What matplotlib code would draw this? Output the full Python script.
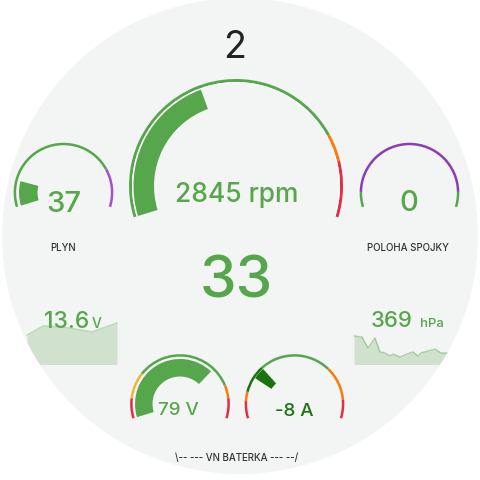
import matplotlib
matplotlib.use('Agg')
import matplotlib.pyplot as plt
from matplotlib.patches import Circle, Wedge

plt.rcParams['font.family'] = ['Inter', 'DejaVu Sans']
plt.rcParams['font.weight'] = 500

GREEN = '#56a64b'
DARKGREEN = '#19730e'
ORANGE = '#ff780a'
RED = '#e02f44'
YELLOW = '#eab839'
PURPLE = '#a352cc'
PURPLE2 = '#8f3bb8'
BG = '#f3f4f4'

# --- data ---------------------------------------------------------------
gear = '2'
speed = '33'

rpm_value = 2845
rpm_min, rpm_max = 0, 7000
rpm_steps = [(0, GREEN), (5500, ORANGE), (6000, RED)]

plyn_value = 37
plyn_min, plyn_max = 30, 77
plyn_steps = [(30, GREEN), (67, PURPLE)]

spojka_value = 0
spojka_min, spojka_max = 0, 12
spojka_steps = [(0, GREEN), (1, PURPLE2), (11, GREEN)]

hv_volt_value = 79
hv_volt_min, hv_volt_max = 60, 87
hv_volt_steps = [(60, RED), (63, YELLOW), (67, GREEN), (82, ORANGE), (84, RED)]

hv_amp_value = -8
hv_amp_min, hv_amp_max = -35, 80
hv_amp_steps = [(-35, RED), (-24, ORANGE), (-18, DARKGREEN), (0, GREEN),
                (46, ORANGE), (68, RED)]

lv_time = [0, 16, 36, 65, 90]
lv_volt = [13.39, 13.58, 13.56, 13.46, 13.64]

baro_time = [0, 8, 14, 21, 26, 31, 36, 39, 46, 53, 59, 64, 67, 74, 81, 87,
             93, 96, 110]
baro_hpa = [385, 384, 373, 383, 369, 368, 365, 367, 364, 367, 369, 365, 368,
            370, 372, 368, 368, 369, 369]

START, SPAN = 197.0, 214.0


def ang(v, vmin, vmax):
    f = (v - vmin) / (vmax - vmin)
    return START - SPAN * f


def gauge(cx, cy, r, lw, r_in, r_out, value, vmin, vmax, steps, bar_color,
          neutral=None, gap=False):
    # threshold arc
    for i, (s, col) in enumerate(steps):
        e = steps[i + 1][0] if i + 1 < len(steps) else vmax
        a1, a2 = ang(e, vmin, vmax), ang(s, vmin, vmax)
        ax.add_patch(Wedge((cx, cy), r + lw / 2, -a2, -a1, width=lw,
                           color=col, lw=0))
    if gap:
        ax.add_patch(Wedge((cx, cy), r - lw / 2, -START, -(START - SPAN),
                           width=1.0, color='white', lw=0))
    # value bar
    base = vmin if neutral is None else neutral
    a_v, a_b = ang(value, vmin, vmax), ang(base, vmin, vmax)
    lo, hi = min(a_v, a_b), max(a_v, a_b)
    ax.add_patch(Wedge((cx, cy), r_out, -hi, -lo, width=r_out - r_in,
                       color=bar_color, lw=0))


fig = plt.figure(figsize=(4.8, 4.8), dpi=100)
fig.patch.set_facecolor('white')
ax = fig.add_axes([0, 0, 1, 1])
ax.set_xlim(0, 480)
ax.set_ylim(480, 0)
ax.axis('off')

disc = Circle((240, 236), 238, color=BG, lw=0)
ax.add_patch(disc)

# big rpm gauge
gauge(236, 186, 105.5, 3, 82, 102.5, rpm_value, rpm_min, rpm_max, rpm_steps,
      GREEN, gap=True)
ax.text(236.5, 202, f'{rpm_value} rpm', color=GREEN, fontsize=19,
        ha='center', va='baseline')

# plyn
gauge(63.5, 192.6, 48.6, 2.5, 26, 44.5, plyn_value, plyn_min, plyn_max,
      plyn_steps, GREEN)
ax.text(64, 211.5, str(plyn_value), color=GREEN, fontsize=21, ha='center',
        va='baseline')
ax.text(63, 251, 'PLYN', color='#333333', fontsize=7, ha='center',
        va='baseline')

# spojka
gauge(409.5, 192.6, 48.6, 2.5, 26, 44.5, spojka_value, spojka_min,
      spojka_max, spojka_steps, GREEN)
ax.text(409, 211, str(spojka_value), color=GREEN, fontsize=21, ha='center',
        va='baseline')
ax.text(408, 251, 'POLOHA SPOJKY', color='#333333', fontsize=7,
        ha='center', va='baseline')

# gear + speed
ax.text(235, 58, gear, color='#222222', fontsize=27, fontweight='normal',
        ha='center', va='baseline')
ax.text(236.5, 297.5, speed, color=GREEN, fontsize=42, ha='center',
        va='baseline')

# sparklines
lx = [27 + t for t in lv_time]
ly = [364 - (v - 12.8) * 48.8 for v in lv_volt]
ax.fill_between(lx, ly, 364, color=GREEN, alpha=0.22, lw=0)
ax.plot(lx, ly, color=GREEN, alpha=0.35, lw=1)
ax.text(89, 327.7, '13.6', color=GREEN, fontsize=16.5, ha='right',
        va='baseline')
ax.text(92, 327.7, 'V', color=GREEN, fontsize=10, ha='left', va='baseline')

bx = [354 + t for t in baro_time]
by = [364 - (v - 357) for v in baro_hpa]
ax.fill_between(bx, by, 364, color=GREEN, alpha=0.22, lw=0)
ax.plot(bx, by, color=GREEN, alpha=0.45, lw=1)
ax.text(413, 327.3, '369', color=GREEN, fontsize=16, ha='right',
        va='baseline')
ax.text(420, 327.3, 'hPa', color=GREEN, fontsize=9.5, ha='left',
        va='baseline')

# HV battery gauges
gauge(180, 404, 48.6, 2.5, 27.5, 45, hv_volt_value, hv_volt_min, hv_volt_max,
      hv_volt_steps, GREEN)
ax.text(178.5, 415, f'{hv_volt_value} V', color=GREEN, fontsize=13.5,
        ha='center', va='baseline')

gauge(294.5, 404, 48.6, 2.5, 27.5, 47, hv_amp_value, hv_amp_min,
      hv_amp_max, hv_amp_steps, DARKGREEN, neutral=0)
ax.text(294, 415.7, f'{hv_amp_value} A', color=DARKGREEN, fontsize=13.5,
        ha='center', va='baseline')

ax.text(237, 460.5, '\\-- --- VN BATERKA --- --/', color='#333333',
        fontsize=7, ha='center', va='baseline')

for art in ax.patches + ax.lines + ax.collections + ax.texts:
    if art is not disc:
        art.set_clip_path(disc)

fig.savefig('out.png', dpi=100, facecolor='white')
